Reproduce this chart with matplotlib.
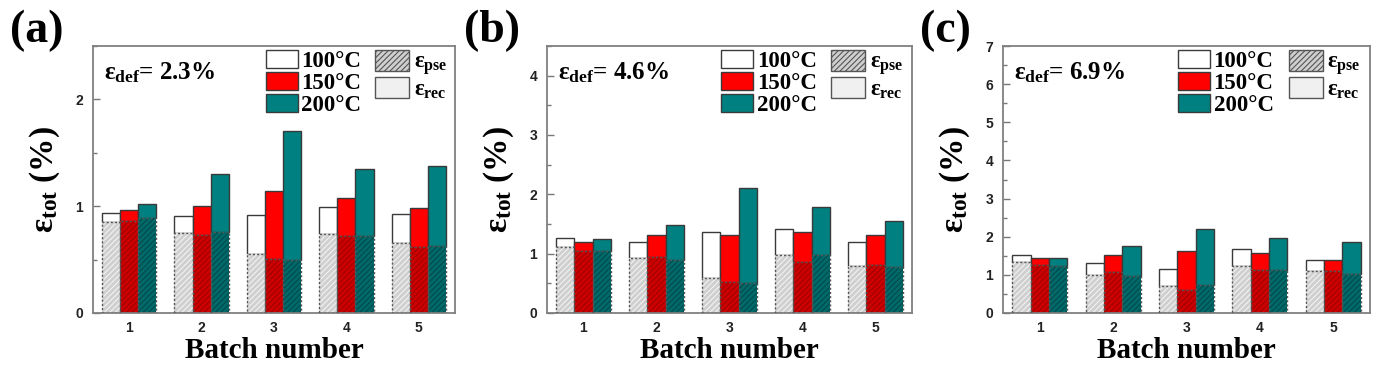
import matplotlib
matplotlib.use("Agg")
import matplotlib.pyplot as plt
from matplotlib.patches import Patch
import numpy as np

plt.rcParams['mathtext.fontset'] = 'custom'
plt.rcParams['mathtext.rm'] = 'Liberation Serif:bold'
plt.rcParams['mathtext.it'] = 'Liberation Serif:bold'
plt.rcParams['mathtext.bf'] = 'Liberation Serif:bold'
plt.rcParams['hatch.linewidth'] = 0.8

batches = [1, 2, 3, 4, 5]
temps = ['100°C', '150°C', '200°C']
panel_labels = ['(a)', '(b)', '(c)']
eps_def = ['2.3%', '4.6%', '6.9%']
ylims = [2.5, 4.5, 7.0]

# total strain per panel, per temperature, per batch
tot_a_100 = [0.94, 0.91, 0.92, 0.99, 0.93]
tot_a_150 = [0.96, 1.00, 1.14, 1.08, 0.98]
tot_a_200 = [1.02, 1.30, 1.70, 1.35, 1.38]
pse_a_100 = [0.85, 0.75, 0.55, 0.74, 0.66]
pse_a_150 = [0.86, 0.73, 0.51, 0.72, 0.62]
pse_a_200 = [0.89, 0.76, 0.50, 0.72, 0.63]

tot_b_100 = [1.26, 1.20, 1.36, 1.41, 1.19]
tot_b_150 = [1.20, 1.32, 1.32, 1.37, 1.32]
tot_b_200 = [1.24, 1.49, 2.10, 1.78, 1.55]
pse_b_100 = [1.11, 0.93, 0.59, 0.98, 0.79]
pse_b_150 = [1.05, 0.94, 0.53, 0.86, 0.81]
pse_b_200 = [1.05, 0.89, 0.51, 0.97, 0.77]

tot_c_100 = [1.51, 1.31, 1.15, 1.69, 1.39]
tot_c_150 = [1.44, 1.52, 1.63, 1.58, 1.39]
tot_c_200 = [1.44, 1.75, 2.20, 1.97, 1.85]
pse_c_100 = [1.33, 1.00, 0.70, 1.24, 1.09]
pse_c_150 = [1.25, 1.07, 0.61, 1.12, 1.09]
pse_c_200 = [1.23, 0.97, 0.74, 1.12, 1.03]

tots = [[tot_a_100, tot_a_150, tot_a_200],
        [tot_b_100, tot_b_150, tot_b_200],
        [tot_c_100, tot_c_150, tot_c_200]]
pses = [[pse_a_100, pse_a_150, pse_a_200],
        [pse_b_100, pse_b_150, pse_b_200],
        [pse_c_100, pse_c_150, pse_c_200]]

top_colors = ['#ffffff', '#ff0000', '#008080']
bot_colors = ['#cfcfcf', '#cc0000', '#006a6a']
hatch_colors = ['#f2f2f2', '#a30000', '#004a4a']
edge = '#3a3a3a'

fig = plt.figure(figsize=(13.79, 3.69), dpi=100)
lefts = [93, 547, 1003]
rights = [455, 912, 1370]
W, H = 1379.0, 369.0
bottom_px, top_px = 313, 46

serif = 'Liberation Serif'
sans = 'Liberation Sans'

width = 0.25
x = np.array(batches, dtype=float)
for p in range(3):
    ax = fig.add_axes([lefts[p] / W, 1 - bottom_px / H,
                       (rights[p] - lefts[p]) / W, (bottom_px - top_px) / H])
    for k in range(3):
        xs = x + (k - 1) * width
        tot = np.array(tots[p][k])
        pse = np.array(pses[p][k])
        ax.bar(xs, tot - pse, bottom=pse, width=width, color=top_colors[k],
               edgecolor=edge, linewidth=1.0, zorder=2)
        ax.bar(xs, pse, width=width, color=bot_colors[k],
               edgecolor=hatch_colors[k], linewidth=0, hatch='//////', zorder=2)
        ax.bar(xs, pse, width=width, fill=False, edgecolor='#555555',
               linewidth=1.0, linestyle=(0, (1.5, 1.5)), zorder=3)
    ax.set_xlim(0.5, 5.5)
    ax.set_ylim(0, ylims[p])
    ax.set_xticks(batches)
    ax.set_xticklabels([str(b) for b in batches])
    ax.yaxis.set_major_locator(matplotlib.ticker.MultipleLocator(1))
    ax.yaxis.set_minor_locator(matplotlib.ticker.MultipleLocator(0.5))
    ax.tick_params(axis='y', which='major', direction='in', length=5,
                   width=1, color='#777777', pad=7)
    ax.tick_params(axis='y', which='minor', direction='in', length=3,
                   width=1, color='#777777')
    ax.tick_params(axis='x', which='major', direction='in', length=0, pad=6)
    for lab in ax.get_xticklabels() + ax.get_yticklabels():
        lab.set_fontfamily(sans)
        lab.set_fontweight('bold')
        lab.set_fontsize(10)
        lab.set_color('#222222')
    for s in ax.spines.values():
        s.set_color('#808080')
        s.set_linewidth(1.3)
    ax.set_xlabel('Batch number', fontfamily=serif, fontweight='bold',
                  fontsize=21, labelpad=1)
    ax.set_ylabel(r'$\varepsilon_{\mathbf{tot}}$ (%)', fontfamily=serif,
                  fontweight='bold', fontsize=24, labelpad=10)
    ax.text(0.03, 0.90, r'$\varepsilon_{\mathbf{def}}$= ' + eps_def[p],
            transform=ax.transAxes, fontfamily=serif, fontweight='bold',
            fontsize=18, va='center', ha='left')

    h1 = [Patch(facecolor=top_colors[k], edgecolor=edge, linewidth=1.0)
          for k in range(3)]
    leg1 = ax.legend(h1, temps, loc='upper left', bbox_to_anchor=(0.477, 0.985),
                     frameon=False, borderpad=0, borderaxespad=0,
                     handlelength=1.4, handleheight=0.85, handletextpad=0.15,
                     labelspacing=0.0,
                     prop={'family': serif, 'weight': 'bold', 'size': 16.5})
    ax.add_artist(leg1)
    h2 = [Patch(facecolor='#cfcfcf', edgecolor='#555555', hatch='//////',
                linewidth=1.0),
          Patch(facecolor='#f0f0f0', edgecolor='#555555', linewidth=1.0)]
    ax.legend(h2, [r'$\varepsilon_{\mathbf{pse}}$', r'$\varepsilon_{\mathbf{rec}}$'],
              loc='upper left', bbox_to_anchor=(0.778, 0.985),
              frameon=False, borderpad=0, borderaxespad=0,
              handlelength=1.5, handleheight=1.0, handletextpad=0.2,
              labelspacing=0.0,
              prop={'family': serif, 'weight': 'bold', 'size': 16.5})

    fig.text((lefts[p] - 83) / W, 1 - 10 / H, panel_labels[p], fontfamily=serif,
             fontweight='bold', fontsize=33, va='top', ha='left')

fig.savefig('out.png', dpi=100, facecolor='white')
